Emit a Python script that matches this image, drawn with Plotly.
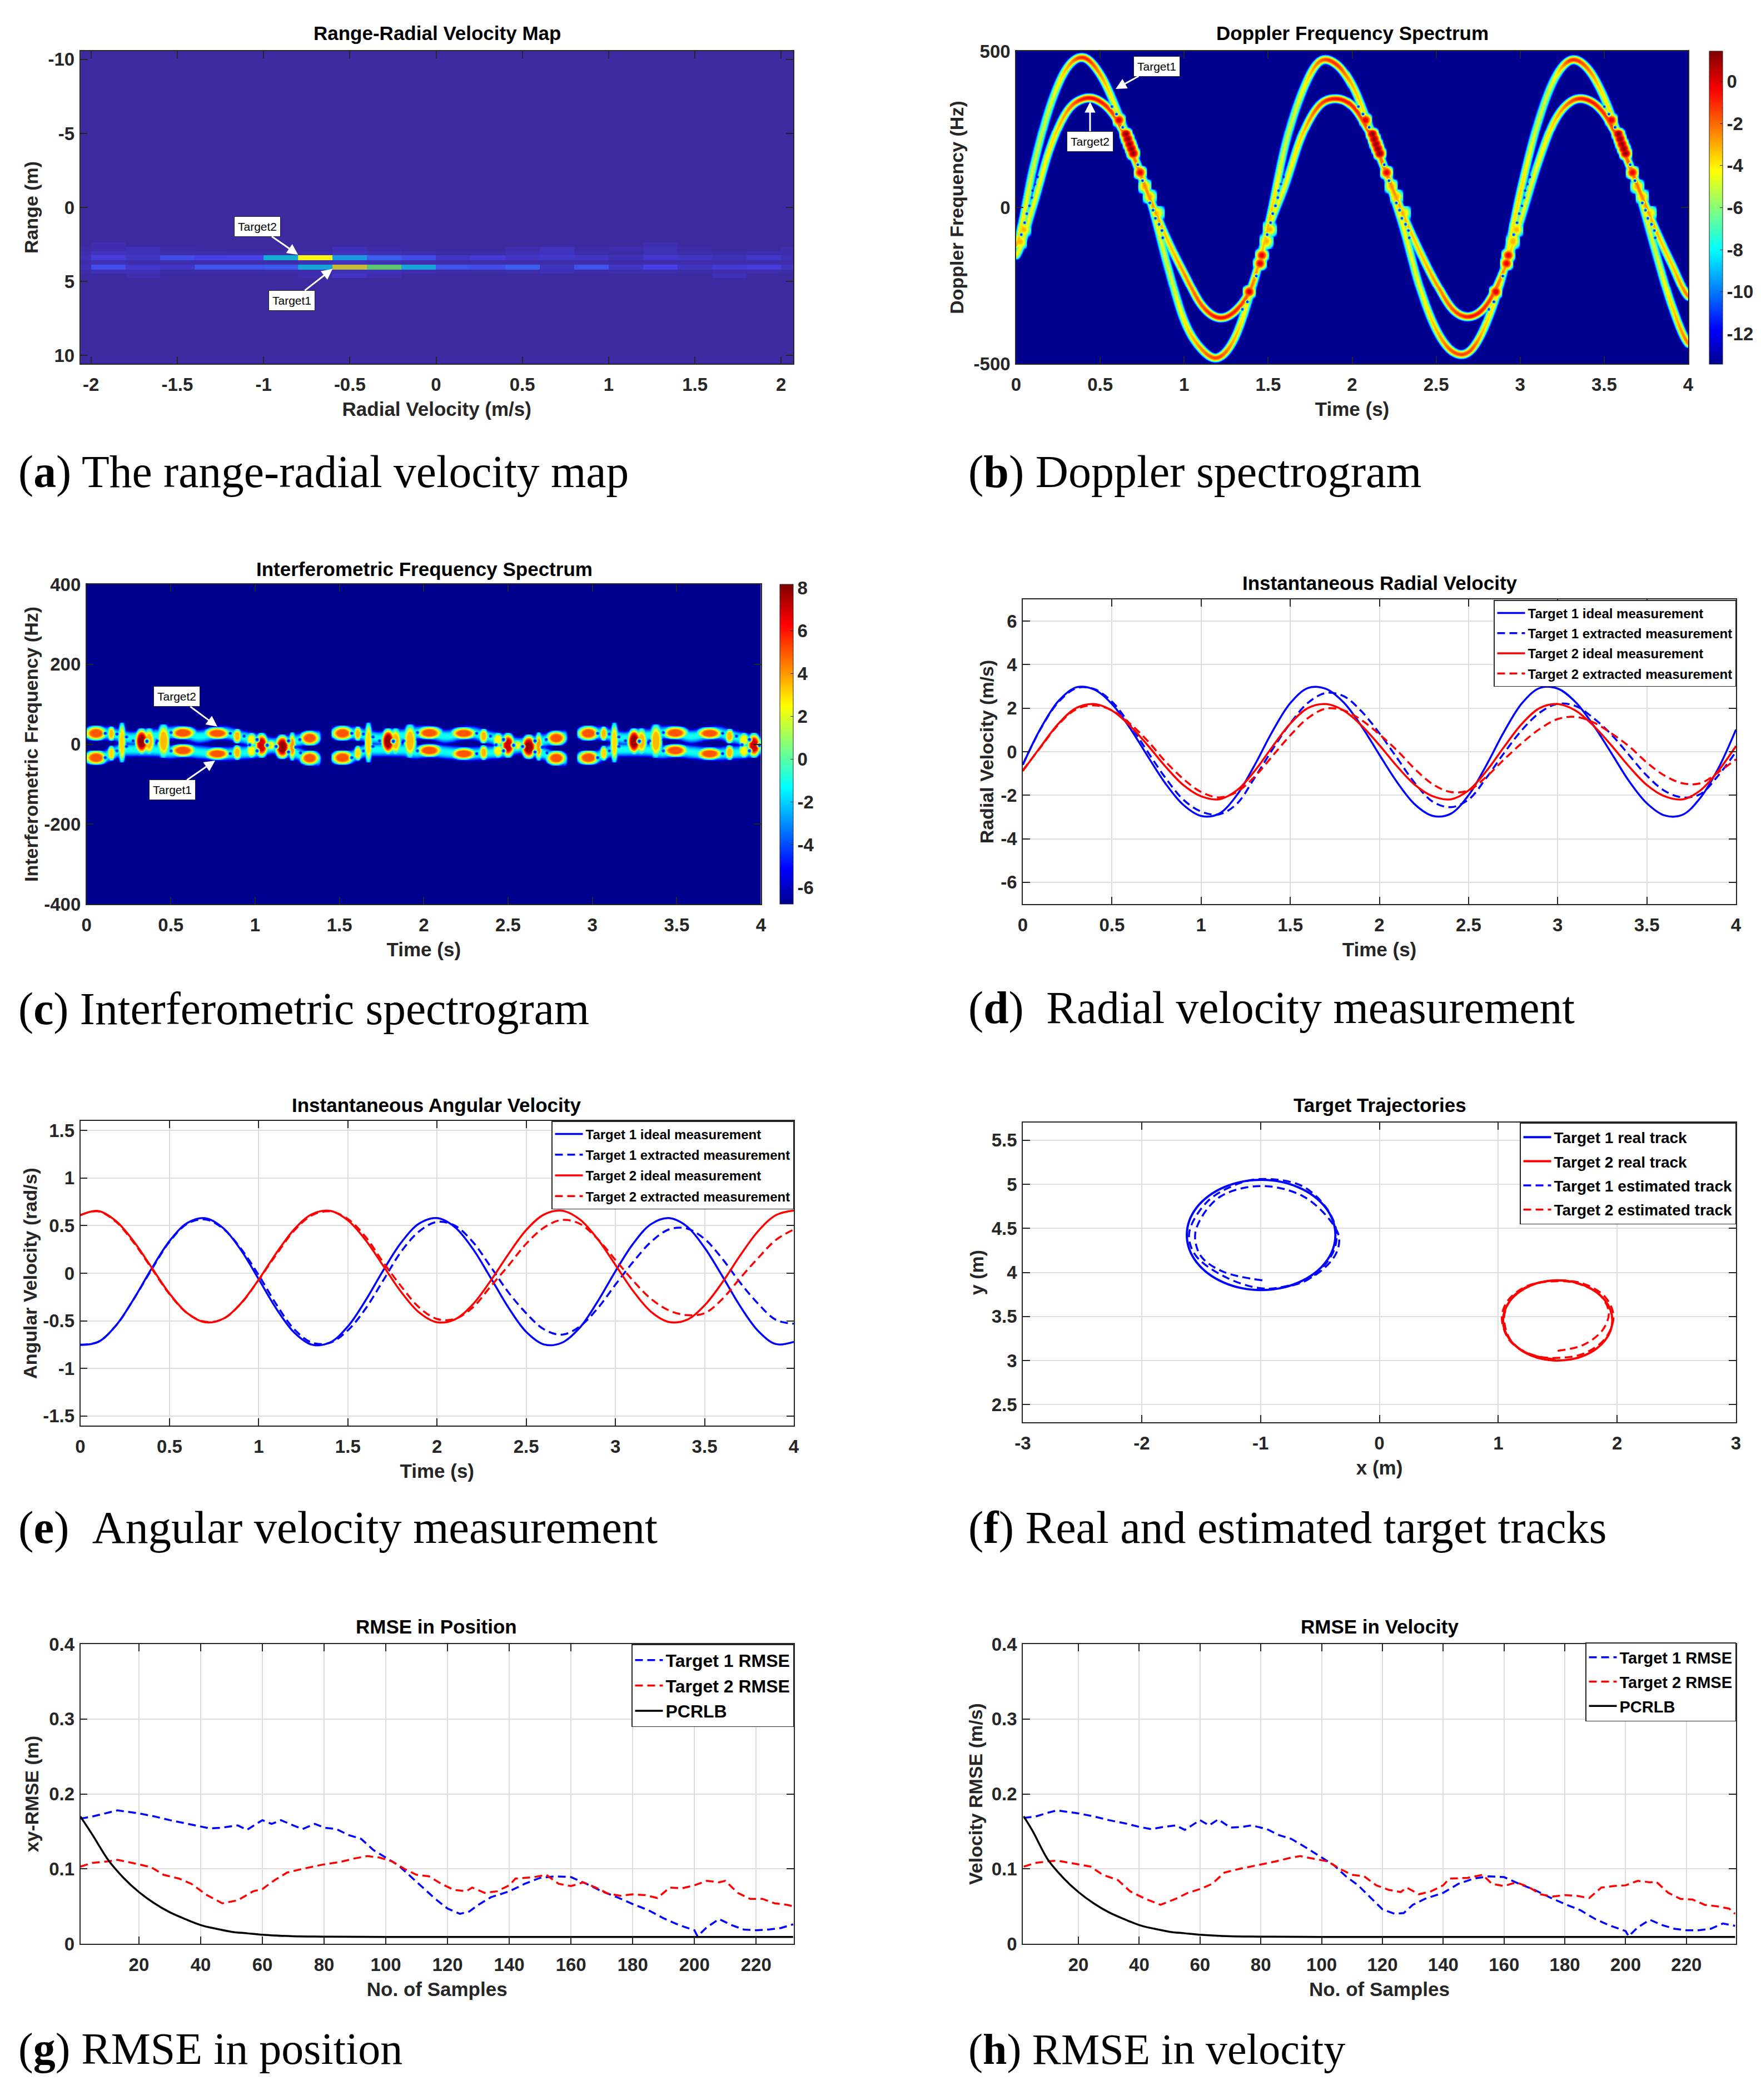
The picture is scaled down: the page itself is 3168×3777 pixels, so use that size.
import numpy as np
import plotly.graph_objects as go

W, H = 3168, 3777
SANS = "Liberation Sans, sans-serif"
SERIF = "Liberation Serif, serif"
INK = "#262626"

# ---------- (a) range / radial-velocity map ----------
a_vel_edges = [-2.06, -2.0, -1.8, -1.6, -1.4, -1.2, -1.0, -0.8, -0.6, -0.4, -0.2, 0.0, 0.2, 0.4, 0.6, 0.8, 1.0, 1.2, 1.4, 1.6, 1.8, 2.0, 2.07]
a_range_edges = [-10.56, 2.37, 2.65, 2.95, 3.23, 3.56, 3.86, 4.2, 4.48, 4.78, 10.56]
a_blank = [0.0] * 22
a_r1 = [0, .02, 0, 0, 0, 0, 0, 0, 0, 0, 0, 0, 0, 0, 0, 0, 0, .02, 0, 0, 0, 0]
a_r2 = [.01, .02, .03, .01, 0, 0, 0, 0, .03, .01, 0, 0, 0, .02, .04, .01, .02, .03, .01, 0, 0, .02]
a_r3 = [.02, .04, .03, .02, .02, .01, .01, .02, .04, .03, .02, .01, .01, .03, .04, .02, .01, .03, .02, .01, .02, .02]
a_target2 = [.03, .08, .05, .12, .1, .1, .4, 1, .3, .15, .12, .05, .07, .05, .06, .05, .03, .06, .05, .03, .06, .03]
a_r5 = [.02, .03, .02, .02, .02, .02, .02, .03, .04, .03, .02, .02, .02, .02, .02, .02, .01, .02, .02, .02, .02, .02]
a_target1 = [.03, .12, .06, .05, .13, .13, .14, .35, .75, .6, .35, .13, .12, .15, .04, .13, .05, .1, .04, .07, .08, .04]
a_r7 = [.01, .03, .03, .01, .01, .01, .01, .02, .03, .03, .02, .01, .01, .02, .03, .01, .02, .02, .01, .02, .02, .01]
a_r8 = [0, 0, .02, 0, 0, 0, 0, .02, .05, .02, 0, 0, 0, 0, 0, 0, 0, 0, 0, .03, 0, 0]

# ---------- (b) Doppler ridges, read every 0.1 s ----------
b_t = [round(0.1 * k, 1) for k in range(41)]
b_f1 = [-119, 127, 324, 446, 480, 426, 311, 165, 20, -185, -362, -451, -480, -418, -264,
        -60, 196, 367, 465, 461, 390, 258, 108, -60, -255, -393, -462, -458, -365, -200,
        53, 265, 410, 472, 445, 350, 205, 58, -133, -312, -435]
b_f2 = [-152, 6, 189, 307, 349, 340, 281, 160, 22, -103, -211, -310, -352, -333, -254,
        -70, 70, 230, 325, 349, 325, 240, 112, -22, -140, -245, -328, -349, -310, -200,
        -40, 135, 275, 340, 345, 300, 198, 65, -65, -180, -285]
b_a1 = [-3, -4.8, -4.8, -3, -.8, -2.5, -4.3, -3, -3.5, -4.8, -3.8, -2.3, -1.3, -3, -4.3,
        -3, -4.8, -4.3, -2, -1, -3, -3.8, -3, -4, -4.3, -3, -1.5, -1.5, -3.5, -3.8,
        -3.5, -4.8, -4.3, -1, -2, -3.8, -3, -3.5, -4.8, -3.5, -2]
b_a2 = [-4.3, -4.3, -3.8, -2.5, -.5, -.6, -1.5, -2, -2.5, -3.3, -2.5, -1.5, -.5, -.8, -2,
        -3.8, -4.3, -3.3, -1.5, -.5, -.8, -1.5, -2, -3, -3.3, -2.5, -1.5, -.5, -1, -2.5,
        -4.3, -4.3, -3.3, -1.5, -.5, -1, -1.5, -2, -3, -3.3, -2]
b_cycles = [0.0, 1.465, 2.93]
b_blob_t = [.023, .045, .611, .652, .663, .674, .685, .696, .737, .765, .795, .84, 1.387, 1.451, 1.462, 1.49, 1.506]
b_blob_f = [-109, -70, 281, 235, 219, 203, 188, 173, 112, 68, 35, -17, -270, -178, -152, -106, -66]
b_blob_z = [-3, -3, .2, 1.4, 1.4, 1.4, 1.4, 1.4, 0, -2.8, -3, -3.5, .2, 0, 0, -3, -3.5]
b_null_t = [.029, .049, .062, .078, .092, .097, .111, .126, .569, .596, .633, .723, .751, .795, .814, .828, .85, .867, .872, 1.346, 1.376, 1.429]
b_null_f = [-86, -48, -19, 6, 32, 54, 75, 98, 324, 300, 258, 137, 86, 15, -8, -34, -53, -73, -96, -326, -302, -218]

# ---------- (c) interferometric lobes ----------
c_cycles = [0.0, 1.46, 2.92]
c_band_t = [.011, .093, .148, .203, .269, .346, .423, .489, .577, .665, .775, .835, .896, .973, 1.038, 1.104, 1.17, 1.236, 1.324, 1.374]
c_band_up = [28, 28, 27, 21, 16, 21, 23, 29, 29, 20, 28, 28, 21, 14, 7, 1, 5, 9, 16, 19]
c_band_lo = [-33, -33, -23, -14, -13, -13, -14, -19, -15, -19, -23, -23, -21, -19, -14, -7, -13, -21, -34, -37]
c_lobe_t = [.055, .055, .146, .146, .209, .326, .37, .456, .571, .571, .775, .775, .893, .893, .978, .978, 1.038, 1.093, 1.161, 1.22, 1.324, 1.324]
c_lobe_f = [28, -33, 27, -22, 5, 8, 8, 9, 29, -15, 28, -23, 21, -20, 12, -16, -2, -2, -6, -5, 16, -34]
c_lobe_w = [.033, .033, .011, .011, .011, .02, .016, .018, .038, .038, .038, .038, .013, .013, .015, .015, .02, .016, .022, .011, .03, .03]
c_lobe_h = [8.4, 8.4, 8.4, 8.4, 23, 15, 15, 19, 7.5, 7.5, 7, 7, 8.4, 8.4, 7.5, 7.5, 14, 6, 14, 16, 8.4, 8.4]
c_lobe_z = [5, 5, 3.5, 3, 3, 7.8, 3.5, 3.5, 5, 5, 5, 5, 3.5, 3.5, 2.5, 2.5, 7, 2, 7.8, 4, 5, 5]
c_null_t = [.11, .11, .179, .179, .236, .236, .275, .357, .418, .5, .5, .5, .852, .852, .852, .904, .967, .934, 1.011, 1.011, 1.071, 1.124, 1.198, 1.198, 1.242, 1.264, 1.269]
c_null_f = [28, -33, 26, -16, 19, -5, 9, 8, 9, 30, 12, -16, 28, 0, -23, 0, -1, 21, 12, -16, -2, -5, 9, -19, -7, 12, -21]

# ---------- (d) radial velocity ----------
d_t = [round(0.1 * k, 1) for k in range(41)]
d_t1_ideal = [-.6, 1.07, 2.33, 2.96, 2.86, 2.19, 1.1, -.2, -1.46, -2.44, -2.95, -2.85, -2.0, -.62, .93, 2.23, 2.93, 2.89, 2.26, 1.17, -.14, -1.41, -2.43, -2.95, -2.85, -2.0, -.62, .93, 2.23, 2.93, 2.9, 2.28, 1.22, -.05, -1.35, -2.37, -2.93, -2.9, -2.12, -.78, 1.02]
d_t1_extr = [-.6, 1.05, 2.28, 2.92, 2.88, 2.3, 1.25, 0, -1.2, -2.2, -2.75, -2.88, -2.4, -1.2, .1, 1.3, 2.25, 2.7, 2.55, 1.85, .85, -.3, -1.45, -2.3, -2.55, -2.2, -1.2, -.05, 1.0, 1.8, 2.2, 2.1, 1.55, .8, -.15, -1.1, -1.8, -2.1, -1.95, -1.1, 0]
d_t2_ideal = [-.89, .23, 1.29, 2.01, 2.19, 1.89, 1.2, .3, -.68, -1.53, -2.05, -2.19, -1.78, -.89, .23, 1.29, 2.01, 2.19, 1.89, 1.2, .3, -.68, -1.53, -2.05, -2.19, -1.78, -.89, .23, 1.29, 2.01, 2.19, 1.89, 1.2, .3, -.68, -1.53, -2.05, -2.19, -1.78, -.89, .26]
d_t2_extr = [-.85, .2, 1.25, 1.95, 2.13, 1.9, 1.3, .5, -.45, -1.25, -1.85, -2.1, -1.85, -1.15, -.2, .75, 1.55, 1.98, 1.9, 1.45, .8, .05, -.8, -1.5, -1.85, -1.78, -1.15, -.35, .4, 1.05, 1.5, 1.6, 1.35, .85, .25, -.5, -1.1, -1.45, -1.45, -.95, -.35]

# ---------- (e) angular velocity ----------
e_t = d_t
e_t1_ideal = [-.753, -.722, -.548, -.269, .05, .338, .528, .578, .476, .245, -.062, -.375, -.624, -.751, -.727, -.559, -.283, .035, .325, .522, .579, .484, .258, -.046, -.36, -.616, -.748, -.73, -.572, -.298, .02, .312, .516, .579, .493, .268, -.032, -.348, -.606, -.744, -.72]
e_t1_extr = [-.75, -.72, -.55, -.27, .04, .33, .52, .565, .47, .26, -.02, -.33, -.59, -.73, -.73, -.6, -.37, -.07, .23, .44, .54, .5, .33, .07, -.2, -.42, -.59, -.645, -.56, -.37, -.12, .12, .33, .46, .47, .36, .15, -.1, -.32, -.49, -.53]
e_t2_ideal = [.61, .654, .548, .333, .06, -.213, -.42, -.516, -.479, -.317, -.067, .215, .463, .622, .656, .556, .347, .073, -.2, -.413, -.515, -.485, -.328, -.08, .2, .454, .617, .657, .566, .36, .088, -.188, -.405, -.512, -.49, -.337, -.095, .188, .442, .61, .658]
e_t2_extr = [.61, .65, .54, .32, .05, -.22, -.42, -.51, -.48, -.32, -.07, .2, .45, .61, .65, .57, .38, .11, -.14, -.36, -.48, -.48, -.36, -.14, .08, .31, .48, .56, .52, .36, .14, -.08, -.27, -.39, -.44, -.42, -.27, -.05, .16, .35, .46]

# ---------- (f) tracks ----------
f_t1_x = [-.37, -.391, -.454, -.553, -.683, -.833, -.995, -1.157, -1.308, -1.437, -1.536, -1.599, -1.62, -1.599, -1.536, -1.437, -1.308, -1.157, -.995, -.833, -.683, -.553, -.454, -.391, -.37]
f_t1_y = [4.425, 4.587, 4.738, 4.867, 4.966, 5.029, 5.05, 5.029, 4.966, 4.867, 4.738, 4.587, 4.425, 4.263, 4.112, 3.983, 3.884, 3.821, 3.8, 3.821, 3.884, 3.983, 4.112, 4.263, 4.425]
f_t2_x = [1.96, 1.944, 1.898, 1.825, 1.73, 1.619, 1.5, 1.381, 1.27, 1.175, 1.102, 1.056, 1.04, 1.056, 1.102, 1.175, 1.27, 1.381, 1.5, 1.619, 1.73, 1.825, 1.898, 1.944, 1.96]
f_t2_y = [3.455, 3.573, 3.683, 3.777, 3.849, 3.895, 3.91, 3.895, 3.849, 3.777, 3.683, 3.573, 3.455, 3.337, 3.228, 3.133, 3.061, 3.015, 3.0, 3.015, 3.061, 3.133, 3.228, 3.337, 3.455]
f_t1e_x = [-.985, -1.3, -1.48, -1.54, -1.54, -1.35, -1.0, -.65, -.42, -.34, -.37, -.55, -.8, -1.0, -1.3, -1.55, -1.6, -1.45, -1.2, -.98, -.65, -.44, -.36, -.4, -.6, -.85, -1.0]
f_t1e_y = [3.91, 4.0, 4.15, 4.3, 4.5, 4.85, 4.98, 4.87, 4.6, 4.4, 4.2, 3.96, 3.84, 3.82, 3.95, 4.2, 4.45, 4.8, 5.0, 5.06, 4.98, 4.72, 4.45, 4.2, 3.92, 3.82, 3.8]
f_t2e_x = [1.5, 1.72, 1.88, 1.93, 1.85, 1.65, 1.5, 1.25, 1.08, 1.03, 1.1, 1.3, 1.5, 1.72, 1.9, 1.97, 1.9, 1.72, 1.5, 1.28, 1.12, 1.05, 1.1, 1.25, 1.5]
f_t2e_y = [3.11, 3.18, 3.35, 3.55, 3.75, 3.88, 3.9, 3.85, 3.68, 3.48, 3.22, 3.06, 3.03, 3.08, 3.25, 3.5, 3.72, 3.87, 3.91, 3.86, 3.72, 3.5, 3.24, 3.08, 3.01]

# ---------- (g) RMSE in position ----------
g_t1_x = [1, 5, 10, 13, 20, 25, 30, 35, 40, 43, 47, 50, 52, 55, 58, 60, 63, 66, 70, 73, 77, 80, 84, 88, 92, 96, 100, 104, 108, 112, 116, 120, 124, 127, 130, 134, 140, 145, 150, 155, 160, 165, 170, 175, 180, 185, 190, 195, 200, 201, 204, 208, 212, 216, 220, 224, 228, 232]
g_t1_y = [.167, .17, .175, .178, .174, .17, .165, .161, .157, .154, .155, .157, .158, .152, .16, .165, .16, .165, .158, .153, .16, .155, .153, .145, .14, .125, .115, .105, .09, .075, .06, .047, .04, .043, .052, .062, .07, .08, .088, .09, .089, .08, .07, .062, .053, .045, .034, .025, .018, .01, .022, .033, .025, .019, .018, .019, .021, .026]
g_t2_x = [1, 5, 10, 13, 20, 24, 28, 33, 37, 42, 47, 52, 57, 60, 64, 68, 73, 80, 85, 90, 94, 98, 102, 106, 110, 114, 118, 122, 126, 128, 132, 136, 140, 142, 148, 152, 156, 160, 164, 168, 172, 176, 180, 184, 188, 192, 196, 200, 204, 208, 210, 214, 218, 222, 226, 230, 232]
g_t2_y = [.103, .108, .11, .112, .106, .102, .092, .087, .08, .065, .054, .058, .07, .073, .085, .095, .1, .106, .109, .114, .117, .115, .11, .1, .092, .09, .08, .072, .07, .075, .068, .07, .078, .087, .089, .092, .08, .077, .082, .075, .067, .064, .066, .065, .061, .075, .074, .078, .084, .082, .084, .068, .06, .06, .054, .052, .05]
g_bound_x = [1, 5, 10, 15, 20, 25, 30, 35, 40, 45, 50, 55, 60, 70, 80, 100, 232]
g_bound_y = [.17, .145, .112, .088, .069, .054, .042, .033, .025, .02, .016, .014, .012, .01, .0095, .009, .009]

# ---------- (h) RMSE in velocity ----------
h_t1_x = [2, 6, 10, 13, 20, 25, 30, 35, 40, 44, 48, 52, 55, 58, 60, 63, 66, 70, 74, 77, 82, 86, 90, 95, 100, 104, 108, 112, 116, 120, 124, 127, 130, 134, 140, 145, 150, 155, 160, 165, 170, 175, 180, 185, 190, 195, 200, 201, 204, 208, 212, 216, 220, 224, 228, 232, 236]
h_t1_y = [.168, .17, .175, .178, .174, .17, .165, .161, .156, .153, .156, .158, .152, .16, .165, .158, .166, .155, .156, .158, .153, .145, .14, .128, .115, .105, .09, .078, .062, .046, .04, .041, .052, .06, .068, .08, .087, .09, .089, .08, .072, .062, .053, .045, .033, .024, .017, .01, .022, .032, .025, .02, .018, .018, .02, .027, .024]
h_t2_x = [2, 6, 10, 13, 20, 24, 28, 33, 37, 42, 47, 52, 56, 60, 64, 68, 73, 80, 85, 90, 93, 98, 102, 106, 110, 114, 118, 122, 126, 128, 132, 136, 140, 142, 148, 153, 156, 160, 164, 168, 172, 176, 180, 184, 188, 192, 196, 200, 204, 208, 210, 214, 218, 222, 226, 230, 234, 236]
h_t2_y = [.103, .108, .11, .111, .106, .103, .092, .085, .07, .06, .052, .06, .068, .073, .08, .095, .1, .106, .11, .115, .117, .113, .11, .1, .092, .09, .078, .072, .069, .075, .066, .07, .078, .087, .088, .092, .08, .077, .082, .076, .066, .063, .065, .064, .061, .075, .077, .078, .084, .082, .083, .068, .06, .059, .052, .05, .047, .04]
h_bound_x = [2, 5, 10, 15, 20, 25, 30, 35, 40, 45, 50, 55, 60, 70, 80, 100, 236]
h_bound_y = [.17, .15, .112, .088, .069, .054, .042, .033, .025, .02, .016, .014, .012, .01, .0095, .009, .009]

captions = ["The range-radial velocity map", "Doppler spectrogram", "Interferometric spectrogram",
            "&#160;Radial velocity measurement", "&#160;Angular velocity measurement",
            "Real and estimated target tracks", "RMSE in position", "RMSE in velocity"]
caption_sizes = [81.5, 82, 81.5, 81.5, 82.5, 82, 80, 78]
letters = list("abcdefgh")

PARULA = [[0, "#3c2aa0"], [.1, "#4740e8"], [.2, "#2f7cf5"], [.3, "#1a98e0"], [.4, "#10aed0"],
          [.5, "#2ebf9f"], [.6, "#5cc46e"], [.7, "#a8bf3c"], [.8, "#e4b830"], [.9, "#f8d428"], [1, "#f9f814"]]
JET = [[0, "#00008f"], [.111, "#0000ff"], [.365, "#00ffff"], [.619, "#ffff00"], [.873, "#ff0000"], [1, "#800000"]]


# ---------- rasterising the read ridges onto a spectrogram grid ----------
def smooth_path(t, v, n):
    t, v = np.asarray(t, float), np.asarray(v, float)
    out_t = np.linspace(t[0], t[-1], n)
    idx = np.clip(np.searchsorted(t, out_t, side="right") - 1, 0, len(t) - 2)
    u = (out_t - t[idx]) / (t[idx + 1] - t[idx])
    p0 = v[np.clip(idx - 1, 0, None)]
    p1, p2 = v[idx], v[idx + 1]
    p3 = v[np.clip(idx + 2, None, len(v) - 1)]
    return out_t, .5 * (2 * p1 + (p2 - p0) * u + (2 * p0 - 5 * p1 + 4 * p2 - p3) * u ** 2 + (3 * p1 - p0 - 3 * p2 + p3) * u ** 3)


def window(T, F, tc, fc, rt, rf):
    i0, i1 = np.searchsorted(T, [tc - rt, tc + rt])
    j0, j1 = np.searchsorted(F, [fc - rf, fc + rf])
    if i1 <= i0 or j1 <= j0:
        return None
    tt = (T[i0:i1] - tc) / rt
    ff = (F[j0:j1] - fc) / rf
    return j0, j1, i0, i1, ff[:, None] ** 2 + tt[None, :] ** 2


def lift(Z, T, F, tc, fc, rt, rf, a, floor, plateau=0.0):
    w = window(T, F, tc, fc, rt, rf)
    if w:
        j0, j1, i0, i1, r2 = w
        val = np.minimum(floor + (a + plateau - floor) * (1 - r2), a)
        Z[j0:j1, i0:i1] = np.maximum(Z[j0:j1, i0:i1], val)


def carve(Z, T, F, tc, fc, rt, rf, deep, top):
    w = window(T, F, tc, fc, rt, rf)
    if w:
        j0, j1, i0, i1, r2 = w
        Z[j0:j1, i0:i1] = np.minimum(Z[j0:j1, i0:i1], deep + (top - deep) * r2)


# (b)
B_FLOOR = -13.44
bT = np.linspace(0, 4, 605)
bF = np.linspace(-500, 500, 283)
bZ = np.full((bF.size, bT.size), B_FLOOR)
RT, RF = 9.5 / 302.3, 9.5 * 1.78
for fv, av in ((b_f1, b_a1), (b_f2, b_a2)):
    pt, pf = smooth_path(b_t, fv, 1300)
    _, pa = smooth_path(b_t, av, 1300)
    for k in range(pt.size):
        lift(bZ, bT, bF, pt[k], pf[k], RT, RF, pa[k], B_FLOOR)
for off in b_cycles:
    for tt, ff, zz in zip(b_blob_t, b_blob_f, b_blob_z):
        lift(bZ, bT, bF, tt + off, ff, 12.5 / 302.3, 12.5 * 1.78, zz, -8)
for off in b_cycles:
    for tt, ff in zip(b_null_t, b_null_f):
        carve(bZ, bT, bF, tt + off, ff, 5 / 302.3, 5 * 1.78, -13, 3)

# (c)
C_FLOOR = -6.78
cT = np.linspace(0, 4, 607)
cF = np.linspace(-400, 400, 401)
cZ = np.full((cF.size, cT.size), C_FLOOR)
for off in c_cycles:
    for path in (c_band_up, c_band_lo):
        pt, pf = smooth_path(c_band_t, path, 420)
        for k in range(pt.size):
            lift(cZ, cT, cF, pt[k] + off, pf[k], .022, 20, -1.0, C_FLOOR)
    for tt, ff, w, h, zz in zip(c_lobe_t, c_lobe_f, c_lobe_w, c_lobe_h, c_lobe_z):
        lift(cZ, cT, cF, tt + off, ff, w * 2.1, h * 2.2, zz, -2.5, plateau=2.0)
    for tt, ff in zip(c_null_t, c_null_f):
        carve(cZ, cT, cF, tt + off, ff, .018, 8, -5.5, 5)

# ---------- figure ----------
fig = go.Figure()


def xd(l, r):
    return [l / W, r / W]


def yd(t, b):
    return [1 - b / H, 1 - t / H]


def axis(domain, anchor, rng, tickvals, ticktext, title, grid, standoff, fsize, lab=0):
    return dict(domain=domain, anchor=anchor, range=rng, tickmode="array", tickvals=tickvals, ticktext=ticktext,
                ticks="inside", ticklen=13, tickwidth=1.5, tickcolor=INK, showline=True, mirror="ticks",
                linecolor=INK, linewidth=1.5, showgrid=grid, gridcolor="#dedede", gridwidth=1.5, zeroline=False,
                tickfont=dict(family=SANS, size=33, color=INK, weight="bold"), ticklabelstandoff=lab,
                title=dict(text=title, standoff=standoff, font=dict(family=SANS, size=fsize, color=INK, weight="bold")))


x_time = [0, .5, 1, 1.5, 2, 2.5, 3, 3.5, 4]
x_time_txt = ["0", "0.5", "1", "1.5", "2", "2.5", "3", "3.5", "4"]
x_vel = [-2, -1.5, -1, -.5, 0, .5, 1, 1.5, 2]
x_vel_txt = ["-2", "-1.5", "-1", "-0.5", "0", "0.5", "1", "1.5", "2"]
x_n = list(range(20, 221, 20))
x_n_txt = [str(v) for v in x_n]

BOX = {1: (144.5, 1427, 92, 654), 2: (1828, 3037, 92, 654), 3: (155.6, 1369, 1051, 1626), 4: (1840, 3123, 1078, 1626),
       5: (144.5, 1428, 2016, 2564), 6: (1840, 3123, 2019, 2558), 7: (144.5, 1428, 2957, 3496), 8: (1840, 3123, 2957, 3496)}
Y_STANDOFF = {1: 8, 2: 8, 3: 0, 4: 2, 5: 0, 6: 4, 7: 8, 8: 6}

spec = {
    1: ([-2.062, 2.07], x_vel, x_vel_txt, "Radial Velocity (m/s)", [10.56, -10.56], [-10, -5, 0, 5, 10], ["-10", "-5", "0", "5", "10"], "Range (m)", False),
    2: ([0, 4], x_time, x_time_txt, "Time (s)", [-500, 500], [-500, 0, 500], ["-500", "0", "500"], "Doppler Frequency (Hz)", False),
    3: ([0, 4], x_time, x_time_txt, "Time (s)", [-400, 400], [-400, -200, 0, 200, 400], ["-400", "-200", "0", "200", "400"], "Interferometric Frequency (Hz)", False),
    4: ([0, 4], x_time, x_time_txt, "Time (s)", [-7, 7], [-6, -4, -2, 0, 2, 4, 6], ["-6", "-4", "-2", "0", "2", "4", "6"], "Radial Velocity (m/s)", True),
    5: ([0, 4], x_time, x_time_txt, "Time (s)", [-1.6, 1.6], [-1.5, -1, -.5, 0, .5, 1, 1.5], ["-1.5", "-1", "-0.5", "0", "0.5", "1", "1.5"], "Angular Velocity (rad/s)", True),
    6: ([-3, 3], [-3, -2, -1, 0, 1, 2, 3], ["-3", "-2", "-1", "0", "1", "2", "3"], "x (m)", [2.3, 5.7], [2.5, 3, 3.5, 4, 4.5, 5, 5.5], ["2.5", "3", "3.5", "4", "4.5", "5", "5.5"], "y (m)", True),
    7: ([1, 232.2], x_n, x_n_txt, "No. of Samples", [0, .4], [0, .1, .2, .3, .4], ["0", "0.1", "0.2", "0.3", "0.4"], "xy-RMSE (m)", True),
    8: ([1.7, 236.3], x_n, x_n_txt, "No. of Samples", [0, .4], [0, .1, .2, .3, .4], ["0", "0.1", "0.2", "0.3", "0.4"], "Velocity RMSE (m/s)", True),
}
for n, (xr, xv, xt, xl, yr, yv, yt, yl, grid) in spec.items():
    l, r, t, b = BOX[n]
    fig.layout[f"xaxis{n}"] = axis(domain=xd(l, r), anchor=f"y{n}", rng=xr, tickvals=xv, ticktext=xt, title=xl, grid=grid, standoff=14, fsize=35, lab=8)
    fig.layout[f"yaxis{n}"] = axis(domain=yd(t, b), anchor=f"x{n}", rng=yr, tickvals=yv, ticktext=yt, title=yl, grid=grid, standoff=Y_STANDOFF[n], fsize=34, lab=2)

# heatmaps
a_z = [a_blank, a_r1, a_r2, a_r3, a_target2, a_r5, a_target1, a_r7, a_r8, a_blank]
fig.add_trace(go.Heatmap(x=a_vel_edges, y=a_range_edges, z=a_z, zmin=0, zmax=1, colorscale=PARULA, showscale=False,
                         xaxis="x1", yaxis="y1", hoverongaps=False))


def cbar(l, t, b, vals):
    return dict(x=l / W, xanchor="left", xpad=0, y=1 - t / H, yanchor="top", yref="paper", len=b - t, lenmode="pixels",
                thickness=24, thicknessmode="pixels", ypad=0, outlinecolor=INK, outlinewidth=1, tickmode="array",
                tickvals=vals, ticktext=[str(v) for v in vals], ticks="inside", ticklen=5, tickcolor=INK,
                tickfont=dict(family=SANS, size=33, color=INK, weight="bold"))


fig.add_trace(go.Heatmap(x=bT, y=bF, z=np.round(bZ, 2).astype("float32"), zmin=B_FLOOR, zmax=1.44, colorscale=JET, zsmooth="best",
                         colorbar=cbar(3075, 92, 655, [0, -2, -4, -6, -8, -10, -12]), xaxis="x2", yaxis="y2"))
fig.add_trace(go.Heatmap(x=cT, y=cF, z=np.round(cZ, 2).astype("float32"), zmin=C_FLOOR, zmax=8.16, colorscale=JET, zsmooth="best",
                         colorbar=cbar(1403, 1051, 1626, [8, 6, 4, 2, 0, -2, -4, -6]), xaxis="x3", yaxis="y3"))

BLUE, RED = "#0000ff", "#ff0000"
DASH = "14px,8px"


def line(n, x, y, name, color, dash=None, legend="legend", spline=True, width=3.5):
    fig.add_trace(go.Scatter(x=x, y=y, name=name, mode="lines", xaxis=f"x{n}", yaxis=f"y{n}", legend=legend,
                             legendgroup=f"{n}-{name}",
                             line=dict(color=color, width=width, dash=dash or "solid",
                                       shape="spline" if spline else "linear", smoothing=1)))


line(4, d_t, d_t1_ideal, "Target 1 ideal measurement", BLUE, legend="legend")
line(4, d_t, d_t1_extr, "Target 1 extracted measurement", BLUE, DASH, legend="legend")
line(4, d_t, d_t2_ideal, "Target 2 ideal measurement", RED, legend="legend")
line(4, d_t, d_t2_extr, "Target 2 extracted measurement", RED, DASH, legend="legend")
line(5, e_t, e_t1_ideal, "Target 1 ideal measurement", BLUE, legend="legend2")
line(5, e_t, e_t1_extr, "Target 1 extracted measurement", BLUE, DASH, legend="legend2")
line(5, e_t, e_t2_ideal, "Target 2 ideal measurement", RED, legend="legend2")
line(5, e_t, e_t2_extr, "Target 2 extracted measurement", RED, DASH, legend="legend2")
line(6, f_t1_x, f_t1_y, "Target 1 real track", BLUE, legend="legend3", width=4)
line(6, f_t2_x, f_t2_y, "Target 2 real track", RED, legend="legend3", width=4)
line(6, f_t1e_x, f_t1e_y, "Target 1 estimated track", BLUE, DASH, legend="legend3")
line(6, f_t2e_x, f_t2e_y, "Target 2 estimated track", RED, DASH, legend="legend3")
line(7, g_t1_x, g_t1_y, "Target 1 RMSE", BLUE, DASH, legend="legend4", spline=False)
line(7, g_t2_x, g_t2_y, "Target 2 RMSE", RED, DASH, legend="legend4", spline=False)
line(7, g_bound_x, g_bound_y, "PCRLB", "#000000", legend="legend4", spline=True)
line(8, h_t1_x, h_t1_y, "Target 1 RMSE", BLUE, DASH, legend="legend5", spline=False)
line(8, h_t2_x, h_t2_y, "Target 2 RMSE", RED, DASH, legend="legend5", spline=False)
line(8, h_bound_x, h_bound_y, "PCRLB", "#000000", legend="legend5", spline=True)


def legend(right, top, size, gap):
    return dict(x=right / W, y=1 - top / H, xanchor="right", yanchor="top", bgcolor="white", bordercolor=INK, borderwidth=1.5,
                font=dict(family=SANS, size=size, color="#000000", weight="bold"), itemwidth=50, tracegroupgap=gap, traceorder="grouped")


fig.update_layout(
    legend=legend(3123, 1079, 24, 2), legend2=legend(1428, 2016, 24, 3), legend3=legend(3123, 2019, 28, 4),
    legend4=legend(1428, 2957, 32, 1), legend5=legend(3123, 2954, 29, 3),
    width=W, height=H, margin=dict(l=0, r=0, t=0, b=0, autoexpand=False), paper_bgcolor="white", plot_bgcolor="white", showlegend=True,
)

ann = []
titles = [("Range-Radial Velocity Map", 786, 60), ("Doppler Frequency Spectrum", 2433, 60), ("Interferometric Frequency Spectrum", 763, 1023),
          ("Instantaneous Radial Velocity", 2482, 1049), ("Instantaneous Angular Velocity", 785, 1987), ("Target Trajectories", 2482, 1987),
          ("RMSE in Position", 785, 2925), ("RMSE in Velocity", 2482, 2925)]
for txt, cx, cy in titles:
    ann.append(dict(text=txt, x=cx / W, y=1 - cy / H, xref="paper", yref="paper", showarrow=False, xanchor="center", yanchor="middle",
                    font=dict(family=SANS, size=35, color="#000000", weight="bold")))
cap_pos = [(31, 848), (1740, 848), (31, 1814), (1740, 1812), (31, 2747), (1740, 2747), (31, 3685), (1740, 3685)]
for let, cap, sz, (px, py) in zip(letters, captions, caption_sizes, cap_pos):
    ann.append(dict(text=f"(<b>{let}</b>) {cap}", x=px / W, y=1 - py / H, xref="paper", yref="paper", showarrow=False,
                    xanchor="left", yanchor="middle", font=dict(family=SERIF, size=sz, color="#000000")))
callouts = [("Target2", 1, -.8, 3.2, -73, -51), ("Target1", 1, -.6, 4.15, -73, 57),
            ("Target1", 2, .592, 379, 74, -41), ("Target2", 2, .44, 338, 0, 71),
            ("Target2", 3, .776, 44, -73, -54), ("Target1", 3, .763, -41, -77, 53)]
for txt, n, vx, vy, ox, oy in callouts:
    ann.append(dict(text=txt, x=vx, y=vy, xref=f"x{n}", yref=f"y{n}", ax=ox, ay=oy, showarrow=True, arrowcolor="white", arrowwidth=3,
                    arrowhead=2, arrowsize=1.3, bgcolor="white", bordercolor=INK, borderwidth=1, borderpad=6,
                    font=dict(family=SANS, size=21, color="#000000")))
fig.update_layout(annotations=ann)

fig.write_html("out.html", config=dict(displayModeBar=False),
               post_script="document.body.style.margin='0';document.body.style.overflow='hidden';")
